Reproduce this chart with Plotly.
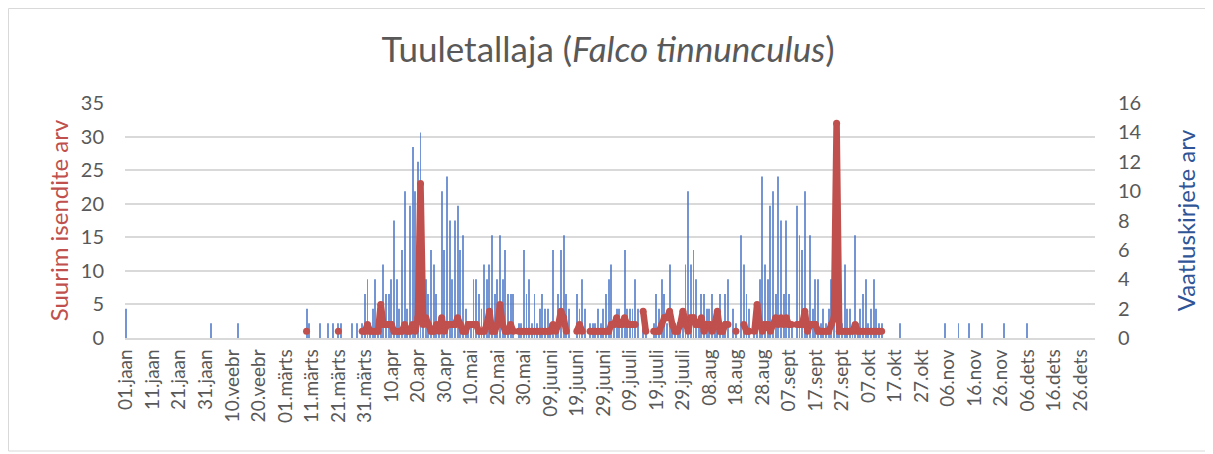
import plotly.graph_objects as go

# ---------------- data ----------------
tick_labels = ["01.jaan", "11.jaan", "21.jaan", "31.jaan", "10.veebr", "20.veebr",
               "01.märts", "11.märts", "21.märts", "31.märts", "10.apr", "20.apr",
               "30.apr", "10.mai", "20.mai", "30.mai", "09.juuni", "19.juuni",
               "29.juuni", "09.juuli", "19.juuli", "29.juuli", "08.aug", "18.aug",
               "28.aug", "07.sept", "17.sept", "27.sept", "07.okt", "17.okt",
               "27.okt", "06.nov", "16.nov", "26.nov", "06.dets", "16.dets", "26.dets"]
n_days = 366  # leap year, day index 0 = 01.jaan

# number of observation records per day (right axis)
obs_day = [0, 32, 42, 68, 69, 73, 76, 78, 80, 81, 85, 87, 89,
           90, 91, 92, 93, 94, 95, 96, 97, 98, 99, 100, 101, 102, 103, 104, 105,
           106, 107, 108, 109, 110, 111, 112, 113, 114, 115, 116, 117, 118, 119,
           120, 121, 122, 123, 124, 125, 126,
           127, 128, 129, 130, 131, 132, 133, 134, 135, 136, 137, 138, 139, 140,
           141, 142, 143, 144, 145, 146, 148, 149, 150, 151, 152, 153, 154, 155,
           156, 157, 158, 159, 160, 161, 162, 163, 164, 165,
           166, 167, 170, 171, 172, 173, 175, 176, 177, 178, 179, 180, 181, 182,
           183, 184, 185, 186, 187, 188, 189, 190, 191, 192, 193, 195, 196, 199,
           200, 201, 202, 203, 204, 205,
           206, 207, 208, 209, 210, 211, 212, 213, 214, 215, 216, 217, 218, 219,
           220, 221, 222, 223, 224, 225, 226, 227, 229, 230, 232, 233, 234, 235,
           237, 238, 239, 240, 241, 242, 243, 244,
           245, 246, 247, 248, 249, 250, 251, 253, 254, 255, 256, 257, 258, 259,
           260, 261, 262, 263, 264, 265, 266, 267, 268, 269, 270, 271, 272, 273,
           274, 275, 276, 277, 278, 279, 280, 281, 282, 283, 284, 285,
           292, 309, 314, 318, 323, 331, 340]
obs_count = [2, 1, 1, 2, 1, 1, 1, 1, 1, 1, 1, 1, 1,
             3, 4, 1, 2, 4, 2, 2, 5, 3, 3, 4, 8, 4, 2, 6, 10,
             2, 9, 13, 10, 12, 14, 2, 4, 3, 6, 5, 3, 1, 10,
             6, 11, 8, 4, 8, 9, 6,
             7, 2, 1, 1, 4, 4, 3, 2, 5, 4, 5, 7, 3, 4,
             7, 4, 6, 3, 3, 3, 1, 1, 6, 3, 4, 1, 3, 1,
             2, 3, 2, 2, 1, 6, 1, 3, 6, 7,
             3, 2, 3, 2, 4, 2, 1, 1, 1, 2, 1, 2, 3, 4,
             5, 1, 2, 2, 1, 6, 2, 2, 2, 4, 2, 1, 1, 1,
             3, 2, 4, 3, 1, 5,
             1, 1, 1, 1, 1, 5, 10, 5, 6, 4, 1, 3, 3, 2,
             2, 3, 1, 1, 3, 1, 3, 4, 2, 1, 7, 5, 3, 2,
             1, 1, 4, 11, 5, 4, 9, 10,
             3, 11, 8, 3, 8, 3, 1, 9, 7, 6, 10, 1, 7, 2,
             4, 4, 1, 2, 1, 2, 4, 1, 1, 1, 1, 5, 2, 2,
             1, 7, 1, 2, 3, 4, 1, 2, 4, 2, 1, 1,
             1, 1, 1, 1, 1, 1, 1]

# largest number of individuals per day (left axis); runs of consecutive days
max_seg_start = [68, 80, 89, 148, 170, 175, 195, 199, 230, 233, 237, 253]
max_seg_values = [
    [1],
    [1],
    [1, 1, 2, 1, 1, 1, 1, 5, 2, 2,
     2, 2, 1, 1, 1, 1, 2, 1, 1, 2,
     1, 3, 23, 2, 3, 2, 1, 1, 2, 1,
     3, 1, 2, 2, 2, 2, 3, 2, 1, 1,
     2, 2, 2, 2, 1, 1, 1, 2, 4, 1,
     1, 2, 5, 2, 1, 1, 2, 1],
    [1, 1, 1, 1, 1, 1, 1, 1, 1, 1, 1, 1, 1, 2, 1, 2, 4, 3, 1],
    [1, 2, 1],
    [1, 1, 1, 1, 1, 1, 1, 1, 2, 2, 3, 2, 2, 3, 2, 2, 2, 2],
    [4, 1],
    [1, 1, 1, 2, 3, 3, 4, 2, 1, 1, 2, 4, 2, 1, 3, 3, 2, 2, 3, 1,
     2, 2, 1, 2, 4, 1, 1, 2, 2],
    [1],
    [2, 1, 1],
    [1, 5, 2, 1, 2, 2, 1, 2, 3, 2, 3, 2, 3, 2, 2],
    [2, 2, 2, 4, 1, 2, 2, 2, 1, 1, 1, 1, 1, 2, 3, 32, 1, 1, 1, 1,
     1, 1, 2, 1, 1, 1, 1, 1, 1, 1, 1, 1, 1],
]

# ---------------- build series ----------------
days = list(range(n_days))
max_daily = [None] * n_days
for start, vals in zip(max_seg_start, max_seg_values):
    for k, v in enumerate(vals):
        max_daily[start + k] = v

RED = "#C0504D"
BLUE = "#4472C4"
GREY_TXT = "#595959"
GRID = "#D9D9D9"
FONT = "Lato"

# the page body has an 8px margin, so the figure is 8px smaller and offset
OFF = 8
W, H = 1213 - OFF, 454 - OFF
PL, PR, PT, PB = 125 - OFF, 1095 - OFF, 103 - OFF, 338 - OFF  # plot box in figure px

fig = go.Figure()
# bars on the base (right) axis, red line on the overlaying (left) axis -> drawn on top
fig.add_trace(go.Bar(
    x=obs_day, y=obs_count, yaxis="y", width=0.35,
    marker=dict(color=BLUE, opacity=0.75, line=dict(width=0)),
    name="Vaatluskirjete arv", hoverinfo="x+y"))
fig.add_trace(go.Scatter(
    x=days, y=max_daily, yaxis="y2", mode="lines+markers",
    connectgaps=False,
    line=dict(color=RED, width=6.5),
    marker=dict(color=RED, size=7),
    name="Suurim isendite arv"))

fig.update_layout(
    width=W, height=H,
    margin=dict(l=PL, r=W - PR, t=PT, b=H - PB, autoexpand=False),
    paper_bgcolor="white", plot_bgcolor="white",
    showlegend=False,
    font=dict(family=FONT, color=GREY_TXT),
    title=dict(
        text="Tuuletallaja (<i>Falco tinnunculus</i>)",
        x=(608 - OFF) / W, xref="container", xanchor="center",
        y=1 - (50 - OFF) / H, yref="container", yanchor="middle",
        font=dict(family=FONT, size=35, color=GREY_TXT)),
    xaxis=dict(
        range=[-0.5, n_days - 0.5],
        tickmode="array", tickvals=list(range(0, 361, 10)), ticktext=tick_labels,
        tickangle=-90, tickfont=dict(size=19, color=GREY_TXT),
        showgrid=False, zeroline=False,
        showline=True, linecolor=GRID, linewidth=1.5,
        ticks="", ticklabelstandoff=2),
    yaxis=dict(
        side="right", range=[0, 16], tickmode="array",
        tickvals=list(range(0, 17, 2)),
        tickfont=dict(size=20, color=GREY_TXT),
        showgrid=False, zeroline=False, ticks="", ticklabelstandoff=22,
        title=dict(text="Vaatluskirjete arv",
                   font=dict(size=24, color="#2F5597"), standoff=37)),
    yaxis2=dict(
        side="left", overlaying="y", range=[0, 35], tickmode="array",
        tickvals=list(range(0, 36, 5)),
        tickfont=dict(size=20, color=GREY_TXT),
        showgrid=True, gridcolor=GRID, gridwidth=1.5, zeroline=False,
        ticks="", ticklabelstandoff=20,
        title=dict(text="Suurim isendite arv",
                   font=dict(size=24, color=RED), standoff=5)),
)

# outer chart border (drawn at the edges of the figure)
pw, ph = PR - PL, PB - PT
fig.add_shape(type="rect", xref="paper", yref="paper",
              x0=(0.5 - PL) / pw, x1=(1209 - OFF - PL) / pw,
              y0=(PB - (451 - OFF)) / ph, y1=(PB - 0.5) / ph,
              line=dict(color=GRID, width=1), fillcolor="rgba(0,0,0,0)",
              layer="below")

fig.write_html("out.html")
